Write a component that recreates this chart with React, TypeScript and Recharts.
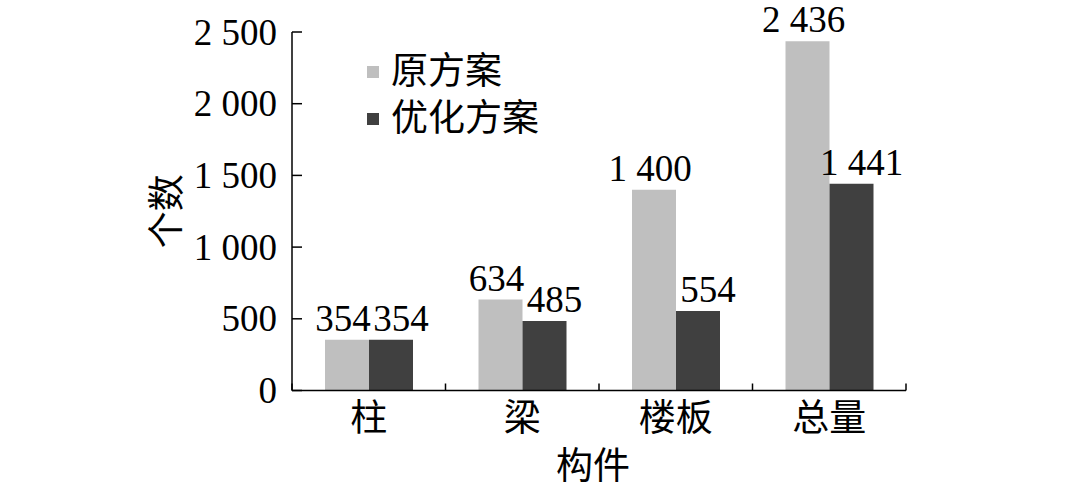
import React from 'react';
import { BarChart, Bar, XAxis, YAxis, LabelList, Label } from 'recharts';

const categories = ['柱', '梁', '楼板', '总量'];
const seriesNames = ['原方案', '优化方案'];
const originalCounts = [354, 634, 1400, 2436];
const optimizedCounts = [354, 485, 554, 1441];
const yTicks = [0, 500, 1000, 1500, 2000, 2500];

const colors = ['#bfbfbf', '#404040'];
const font = "'Liberation Serif', 'Times New Roman', 'Noto Sans CJK SC', serif";
const fontSize = 37;

const data = categories.map((name, i) => ({
  name,
  original: originalCounts[i],
  optimized: optimizedCounts[i],
}));

// 2500 -> "2 500"
const fmt = (v: number) =>
  v >= 1000 ? `${Math.floor(v / 1000)} ${String(v % 1000).padStart(3, '0')}` : String(v);

// plot box: x 292..906, y 32..390.5
const bandWidth = (906 - 292) / categories.length;

const XTick = (props: any) => {
  const { x, y, payload, index } = props;
  return (
    <g>
      <line x1={x - bandWidth / 2} x2={x - bandWidth / 2} y1={y} y2={y - 7} stroke="#000" strokeWidth={1.5} />
      {index === categories.length - 1 && (
        <line x1={x + bandWidth / 2} x2={x + bandWidth / 2} y1={y} y2={y - 7} stroke="#000" strokeWidth={1.5} />
      )}
      <text x={x} y={y + 28} textAnchor="middle" dominantBaseline="central" fontSize={fontSize} fontFamily={font} fill="#000">
        {payload.value}
      </text>
    </g>
  );
};

const YTick = (props: any) => {
  const { x, y, payload } = props;
  return (
    <g>
      <line x1={x + 15} x2={x + 25} y1={y} y2={y} stroke="#000" strokeWidth={1.5} />
      <text x={x} y={y} textAnchor="end" dominantBaseline="central" fontSize={fontSize} fontFamily={font} fill="#000">
        {fmt(payload.value)}
      </text>
    </g>
  );
};

const valueLabel = (dx: number) => (props: any) => {
  const { x, y, width, value } = props;
  return (
    <text x={x + width / 2 + dx} y={y - 9} textAnchor="middle" fontSize={fontSize} fontFamily={font} fill="#000">
      {fmt(value)}
    </text>
  );
};

export default function App() {
  return (
    <div style={{ position: 'absolute', left: 0, top: 0, width: 1080, height: 486, background: '#fff' }}>
      <BarChart
        width={1080}
        height={486}
        data={data}
        margin={{ top: 32, right: 174, left: 0, bottom: 0 }}
        barSize={44}
        barGap={0}
      >
        <XAxis
          dataKey="name"
          height={95.5}
          axisLine={{ stroke: '#000', strokeWidth: 1.5 }}
          tickLine={false}
          tickSize={0}
          tickMargin={0}
          tick={<XTick />}
          interval={0}
        >
          <Label
            content={(p: any) => (
              <text
                x={p.viewBox.x + p.viewBox.width / 2 - 6}
                y={466}
                textAnchor="middle"
                dominantBaseline="central"
                fontSize={fontSize}
                fontFamily={font}
                fill="#000"
              >
                构件
              </text>
            )}
          />
        </XAxis>
        <YAxis
          width={292}
          domain={[0, 2500]}
          ticks={yTicks}
          interval={0}
          axisLine={{ stroke: '#000', strokeWidth: 1.5 }}
          tickLine={false}
          tickSize={0}
          tickMargin={15}
          tick={<YTick />}
        >
          <Label
            content={(p: any) => {
              const cx = 167;
              const cy = p.viewBox.y + p.viewBox.height / 2;
              return (
                <text
                  x={cx}
                  y={cy}
                  textAnchor="middle"
                  dominantBaseline="central"
                  fontSize={fontSize}
                  fontFamily={font}
                  fill="#000"
                  transform={`rotate(-90 ${cx} ${cy})`}
                >
                  个数
                </text>
              );
            }}
          />
        </YAxis>
        <Bar dataKey="original" name={seriesNames[0]} fill={colors[0]} isAnimationActive={false}>
          <LabelList dataKey="original" content={valueLabel(-4)} />
        </Bar>
        <Bar dataKey="optimized" name={seriesNames[1]} fill={colors[1]} isAnimationActive={false}>
          <LabelList dataKey="optimized" content={valueLabel(10)} />
        </Bar>
      </BarChart>
      <div style={{ position: 'absolute', left: 367, top: 48, fontFamily: font, fontSize, color: '#000' }}>
        {seriesNames.map((name, i) => (
          <div key={name} style={{ display: 'flex', alignItems: 'center', height: 47 }}>
            <span style={{ display: 'inline-block', width: 12, height: 12, background: colors[i], marginRight: 12 }} />
            <span style={{ lineHeight: '47px' }}>{name}</span>
          </div>
        ))}
      </div>
    </div>
  );
}
